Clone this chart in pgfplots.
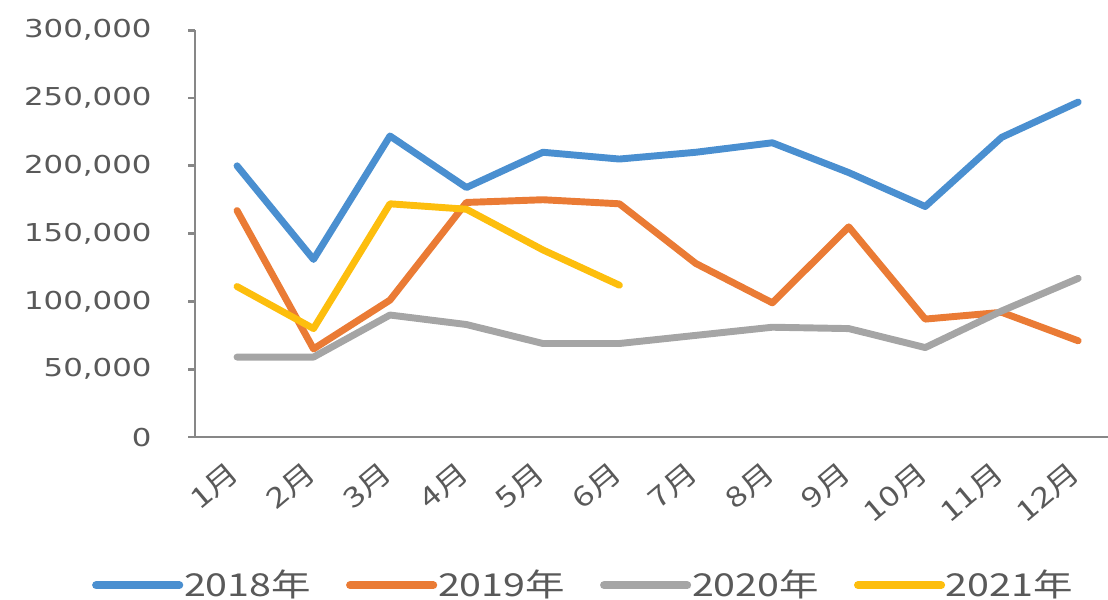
\documentclass[border=0pt]{standalone}
\usepackage{pgfplots}
\pgfplotsset{compat=1.18}
\usepackage{fontspec}
\setmainfont{DejaVu Sans}[FakeStretch=1.25]
\newfontfamily\cjk{Noto Sans CJK SC}[FakeStretch=1.25]
\newcommand\yue{月}

\definecolor{c18}{HTML}{4A8FD0}
\definecolor{c19}{HTML}{EA7B35}
\definecolor{c20}{HTML}{A5A5A5}
\definecolor{c21}{HTML}{FDBE0D}
\definecolor{axisgray}{HTML}{878787}
\definecolor{labelgray}{HTML}{595959}

\begin{document}
\begin{tikzpicture}
% page = 1108 x 599 px, 1px = 0.361pt
\path[use as bounding box] (-70.4pt,-58.5pt) rectangle (329.6pt,157.8pt);
\begin{axis}[
    at={(0,0)}, anchor=south west,
    scale only axis,
    width=329.6pt, height=146.9pt,
    xmin=0.45, xmax=12.39,
    ymin=0, ymax=300000,
    axis x line*=bottom,
    axis y line*=left,
    axis line style={draw=axisgray, line width=1pt},
    tick align=outside,
    major tick length=2.5pt,
    scaled y ticks=false,
    ytick={0,50000,100000,150000,200000,250000,300000},
    yticklabels={0,{50,000},{100,000},{150,000},{200,000},{250,000},{300,000}},
    ytick style={draw=axisgray, line width=1pt},
    yticklabel style={anchor=east, inner sep=0pt, xshift=-13pt,
        font=\fontsize{8.9}{10}\selectfont, text=labelgray},
    xtick={1,2,3,4,5,6,7,8,9,10,11,12},
    xticklabels={1\yue,2\yue,3\yue,4\yue,5\yue,6\yue,7\yue,8\yue,9\yue,10\yue,11\yue,12\yue},
    xtick style={draw=none},
    xticklabel style={rotate=40, anchor=east, inner sep=0pt, xshift=-6.1pt, yshift=-6.4pt,
        font=\cjk\fontsize{10}{11}\selectfont, text=labelgray},
    every axis plot/.append style={line width=2.5pt, line join=round, line cap=round},
    legend columns=4,
    legend style={draw=none, fill=none, at={(0.425,-0.364)}, anchor=center,
        font=\cjk\fontsize{11.4}{12}\selectfont, text=labelgray,
        /tikz/every even column/.append style={column sep=12.3pt},
        nodes={inner sep=0.3pt}},
    legend image code/.code={\draw[#1, line width=2.9pt, line cap=round] (1.5pt,0) -- (31.5pt,0);},
]
\addplot[c18] coordinates {
    (1,200000) (2,131000) (3,222000) (4,184000) (5,210000) (6,205000)
    (7,210000) (8,217000) (9,195000) (10,170000) (11,221000) (12,247000)};
\addlegendentry{2018年}
\addplot[c19] coordinates {
    (1,167000) (2,65000) (3,101000) (4,173000) (5,175000) (6,172000)
    (7,128000) (8,99000) (9,155000) (10,87000) (11,92000) (12,71000)};
\addlegendentry{2019年}
\addplot[c20] coordinates {
    (1,59000) (2,59000) (3,90000) (4,83000) (5,69000) (6,69000)
    (7,75000) (8,81000) (9,80000) (10,66000) (11,93000) (12,117000)};
\addlegendentry{2020年}
\addplot[c21] coordinates {
    (1,111000) (2,80000) (3,172000) (4,168000) (5,138000) (6,112000)};
\addlegendentry{2021年}
\end{axis}
\end{tikzpicture}
\end{document}
